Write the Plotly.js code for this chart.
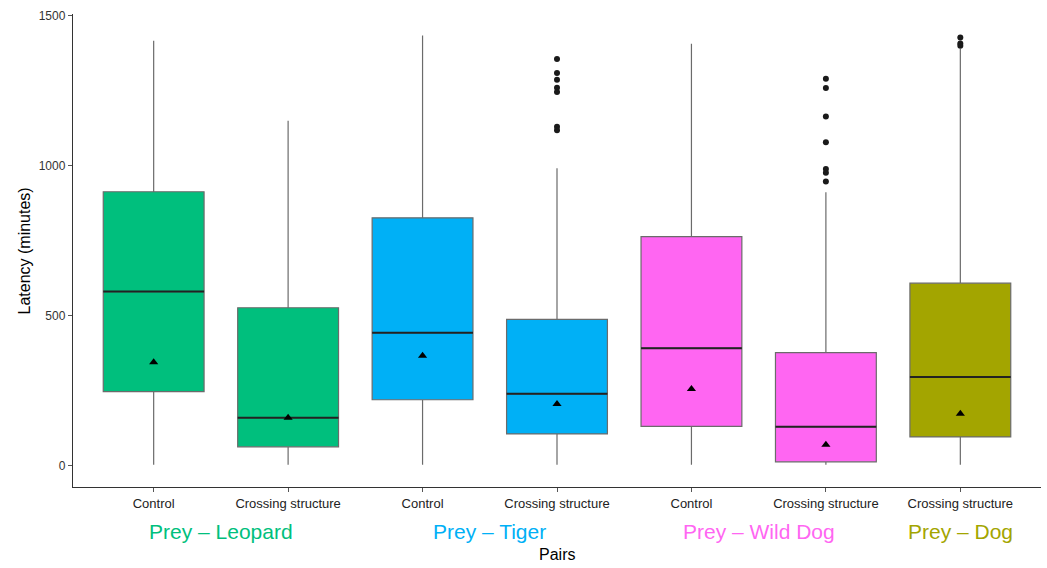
<!DOCTYPE html>
<html>
<head>
<meta charset="utf-8">
<script src="https://cdn.plot.ly/plotly-3.0.1.min.js"></script>
<style>html,body{margin:0;padding:0;background:#fff;}#chart{width:1047px;height:568px;}</style>
</head>
<body>
<div id="chart"></div>
<script>
// ---- data ----
const tickLabels = ['Control','Crossing structure','Control','Crossing structure','Control','Crossing structure','Crossing structure'];
const groupOf = [0,0,1,1,2,2,3];
const groupNames = ['Prey \u2013 Leopard','Prey \u2013 Tiger','Prey \u2013 Wild Dog','Prey \u2013 Dog'];
const groupColors = ['#00BF7D','#00B0F6','#FF66F2','#A3A500'];
const q1Vals = [246, 62, 219, 105, 130, 12, 95];
const medianVals = [580, 159, 443, 239, 391, 129, 295];
const q3Vals = [913, 526, 826, 487, 763, 376, 608];
const lowerFence = [2, 2, 2, 2, 2, 2, 2];
const upperFence = [1417, 1150, 1434, 991, 1407, 911, 1390];
const meanVals = [344, 159, 366, 205, 255, 69, 172];
const outliers = [
  [],
  [],
  [],
  [1356, 1309, 1287, 1260, 1246, 1130, 1118],
  [],
  [1290, 1259, 1164, 1078, 989, 976, 947],
  [1428, 1408, 1400]
];

// ---- chart ----
const positions = tickLabels.map((_, i) => i);
const boxWidth = 0.75;
const traces = [];
positions.forEach(i => {
  const col = groupColors[groupOf[i]];
  traces.push({
    type: 'box',
    x: [i],
    q1: [q1Vals[i]], median: [medianVals[i]], q3: [q3Vals[i]],
    lowerfence: [lowerFence[i]], upperfence: [upperFence[i]],
    width: boxWidth,
    whiskerwidth: 0,
    fillcolor: col,
    line: {color: '#6b6b6b', width: 1.2},
    showlegend: false,
    hoverinfo: 'skip'
  });
  // median line overlay (darker, thicker)
  traces.push({
    type: 'scatter', mode: 'lines',
    x: [i - boxWidth / 2, i + boxWidth / 2],
    y: [medianVals[i], medianVals[i]],
    line: {color: '#222', width: 2},
    showlegend: false, hoverinfo: 'skip'
  });
});
// outliers
const ox = [], oy = [];
outliers.forEach((arr, i) => arr.forEach(v => { ox.push(i); oy.push(v); }));
traces.push({
  type: 'scatter', mode: 'markers', x: ox, y: oy,
  marker: {color: '#1a1a1a', size: 6, symbol: 'circle'},
  showlegend: false, hoverinfo: 'skip'
});
// means
traces.push({
  type: 'scatter', mode: 'markers', x: positions, y: meanVals,
  marker: {color: '#000', size: 8, symbol: 'triangle-up'},
  showlegend: false, hoverinfo: 'skip'
});

const annotations = [];
// group labels centred over their categories
groupNames.forEach((name, g) => {
  const idx = positions.filter(i => groupOf[i] === g);
  const cx = (Math.min(...idx) + Math.max(...idx)) / 2;
  annotations.push({
    text: name, x: cx, xref: 'x', y: -0.0946, yref: 'paper',
    xanchor: 'center', yanchor: 'middle', showarrow: false,
    font: {family: 'Liberation Sans, Arial, sans-serif', size: 21, color: groupColors[g]}
  });
});
annotations.push({
  text: 'Pairs', x: 0.5, xref: 'paper', y: -0.1418, yref: 'paper',
  xanchor: 'center', yanchor: 'middle', showarrow: false,
  font: {family: 'Liberation Sans, Arial, sans-serif', size: 16, color: '#000'}
});
annotations.push({
  text: 'Latency (minutes)', x: -0.0496, xref: 'paper', y: 0.5, yref: 'paper',
  xanchor: 'center', yanchor: 'middle', showarrow: false, textangle: -90,
  font: {family: 'Liberation Sans, Arial, sans-serif', size: 16, color: '#000'}
});

const layout = {
  width: 1047, height: 568,
  margin: {l: 73, r: 6, t: 14, b: 81},
  paper_bgcolor: '#fff', plot_bgcolor: '#fff',
  font: {family: 'Liberation Sans, Arial, sans-serif'},
  showlegend: false,
  xaxis: {
    range: [-0.6, 6.6], tickmode: 'array', tickvals: positions, ticktext: tickLabels,
    showgrid: false, zeroline: false, showline: true, linecolor: '#333', linewidth: 1.2,
    ticks: 'outside', ticklen: 4, tickcolor: '#555', tickwidth: 1,
    tickfont: {size: 13, color: '#222'}
  },
  yaxis: {
    range: [-72, 1506], tickmode: 'array', tickvals: [0, 500, 1000, 1500],
    showgrid: false, zeroline: false, showline: true, linecolor: '#333', linewidth: 1.2,
    ticks: 'outside', ticklen: 4, tickcolor: '#555', tickwidth: 1,
    tickfont: {size: 12, color: '#333'}
  },
  annotations: annotations
};
Plotly.newPlot('chart', traces, layout, {displayModeBar: false, staticPlot: true});
</script>
</body>
</html>
